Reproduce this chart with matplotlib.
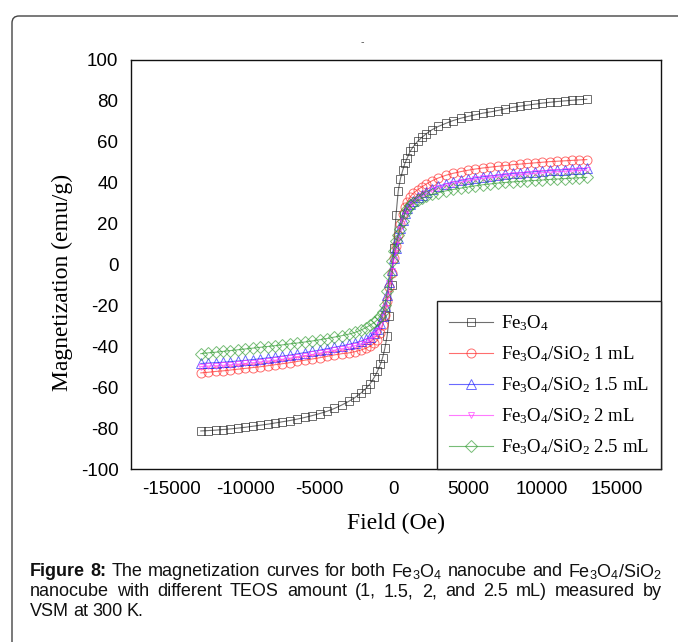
import matplotlib
matplotlib.use('Agg')
import matplotlib.pyplot as plt
from matplotlib.patches import FancyBboxPatch

# field sweep (Oe), from +13000 down to -13000
field = [13000, 12500, 12000, 11500, 11000, 10500, 10000, 9500, 9000, 8500, 8000,
         7500, 7000, 6500, 6000, 5500, 5000, 4500, 4000, 3500, 3000,
         2600, 2200, 1900, 1600, 1300, 1100, 900, 750, 600, 450, 300, 150,
         0,
         -150, -300, -450, -600, -750, -900, -1100, -1300, -1600, -1900, -2200, -2600,
         -3000, -3500, -4000, -4500, -5000, -5500, -6000, -6500, -7000, -7500, -8000,
         -8500, -9000, -9500, -10000, -10500, -11000, -11500, -12000, -12500, -13000]

# magnetization (emu/g)
m_fe3o4 = [80.8, 80.6, 80.3, 80.0, 79.7, 79.3, 78.9, 78.4, 77.9, 77.4, 76.8,
           76.1, 75.3, 74.6, 74.0, 73.2, 72.4, 71.5, 70.4, 69.0, 67.5,
           66.0, 64.0, 62.2, 60.2, 57.5, 55.3, 52.0, 49.5, 46.0, 42.0, 36.0, 24.0,
           8.0,
           -10.0, -25.0, -35.0, -41.0, -45.5, -48.8, -52.2, -55.0, -58.4, -60.8, -62.8, -65.0,
           -66.8, -68.7, -70.4, -71.8, -72.9, -73.9, -74.8, -75.6, -76.3, -76.9, -77.5,
           -78.1, -78.6, -79.1, -79.6, -80.0, -80.4, -80.7, -81.0, -81.2, -81.4]
m_1ml = [51.3, 51.1, 50.9, 50.7, 50.5, 50.3, 50.0, 49.7, 49.4, 49.1, 48.8,
         48.4, 48.0, 47.6, 47.2, 46.7, 46.1, 45.4, 44.6, 43.6, 42.3,
         41.0, 39.4, 38.0, 36.5, 34.8, 33.0, 30.5, 28.0, 24.5, 20.0, 14.5, 9.0,
         3.0,
         -4.0, -11.0, -18.0, -24.5, -29.5, -33.5, -37.0, -38.5, -40.0, -41.0, -41.8, -42.6,
         -43.2, -43.6, -44.2, -44.9, -45.6, -46.2, -46.8, -47.4, -48.0, -48.5, -49.0,
         -49.5, -50.0, -50.4, -50.8, -51.2, -51.6, -52.0, -52.3, -52.7, -53.0]
m_15ml = [47.0, 46.8, 46.6, 46.4, 46.2, 46.0, 45.7, 45.4, 45.1, 44.8, 44.5,
          44.1, 43.7, 43.3, 42.9, 42.4, 41.8, 41.1, 40.3, 39.4, 38.2,
          37.0, 35.5, 34.2, 32.8, 31.2, 29.6, 27.4, 25.2, 22.0, 18.0, 13.0, 8.0,
          3.0,
          -2.5, -8.5, -15.0, -20.5, -25.0, -28.5, -31.5, -33.5, -35.5, -36.6, -37.5, -38.3,
          -39.0, -39.8, -40.5, -41.2, -41.9, -42.5, -43.1, -43.7, -44.3, -44.8, -45.3,
          -45.7, -46.1, -46.5, -46.9, -47.2, -47.5, -47.8, -48.0, -48.2, -48.4]
m_2ml = [46.2, 46.0, 45.8, 45.6, 45.4, 45.2, 44.9, 44.6, 44.3, 44.0, 43.7,
         43.3, 42.9, 42.5, 42.1, 41.6, 41.0, 40.3, 39.5, 38.6, 37.4,
         36.2, 34.7, 33.4, 32.0, 30.4, 28.8, 26.6, 24.4, 21.2, 17.2, 12.2, 7.2,
         2.2,
         -3.2, -9.2, -15.8, -21.3, -25.8, -29.4, -32.5, -34.6, -36.7, -37.9, -38.8, -39.7,
         -40.4, -41.2, -41.9, -42.6, -43.3, -44.0, -44.6, -45.2, -45.8, -46.3, -46.8,
         -47.2, -47.6, -48.0, -48.4, -48.7, -49.0, -49.3, -49.5, -49.7, -49.9]
m_25ml = [42.6, 42.4, 42.2, 42.0, 41.8, 41.6, 41.3, 41.1, 40.9, 40.6, 40.4,
          40.1, 39.8, 39.4, 39.0, 38.5, 37.9, 37.3, 36.7, 36.0, 35.1,
          34.3, 33.3, 32.4, 31.4, 30.0, 29.0, 27.3, 25.0, 21.5, 17.5, 14.5, 11.5,
          6.5,
          1.5, -5.0, -13.0, -20.0, -23.0, -25.0, -27.0, -28.3, -29.7, -31.0, -32.0, -33.2,
          -34.0, -34.8, -35.5, -36.2, -36.8, -37.4, -37.9, -38.4, -38.8, -39.3, -39.7,
          -40.1, -40.5, -40.9, -41.3, -41.7, -42.1, -42.5, -42.9, -43.2, -43.6]

SERIES = [
    (m_fe3o4, r'Fe$_3$O$_4$', '#222222', 's', 6.0),
    (m_1ml, r'Fe$_3$O$_4$/SiO$_2$ 1 mL', '#ff2020', 'o', 6.5),
    (m_15ml, r'Fe$_3$O$_4$/SiO$_2$ 1.5 mL', '#1a1aff', '^', 6.5),
    (m_2ml, r'Fe$_3$O$_4$/SiO$_2$ 2 mL', '#ff33ff', 'v', 4.5),
    (m_25ml, r'Fe$_3$O$_4$/SiO$_2$ 2.5 mL', '#2e9a2e', 'D', 6.5),
]
x_ticks = [-15000, -10000, -5000, 0, 5000, 10000, 15000]
y_ticks = [-100, -80, -60, -40, -20, 0, 20, 40, 60, 80, 100]

FE3O4 = r'Fe$_\mathsf{3}$O$_\mathsf{4}$'
CAPTION = [
    [('Figure', 'bold'), ('8:', 'bold'), 'The', 'magnetization', 'curves', 'for', 'both',
     FE3O4, 'nanocube', 'and', FE3O4 + r'/SiO$_\mathsf{2}$'],
    ['nanocube', 'with', 'different', 'TEOS', 'amount', '(1,', '1.5,', '2,', 'and', '2.5',
     'mL)', 'measured', 'by'],
    ['VSM', 'at', '300', 'K.'],
]

plt.rcParams['axes.unicode_minus'] = False
plt.rcParams['mathtext.fontset'] = 'custom'
plt.rcParams['mathtext.rm'] = 'Liberation Serif'
plt.rcParams['mathtext.it'] = 'Liberation Serif:italic'
plt.rcParams['mathtext.sf'] = 'Liberation Sans'

fig = plt.figure(figsize=(6.78, 6.42), dpi=100)
ax = fig.add_axes([131 / 678, 1 - 469 / 642, 530 / 678, 409 / 642])

# rounded frame around the figure panel
frame = FancyBboxPatch((0.12, -1.0), 8.0, 7.26, boxstyle='round,pad=0,rounding_size=0.07',
                       transform=fig.dpi_scale_trans, fc='none', ec='#444444', lw=1.0)
fig.patches.append(frame)

for vals, label, color, marker, ms in SERIES:
    ax.plot(field, vals, color=color, lw=0.8, alpha=0.65, marker=marker, ms=ms,
            mfc='none', mec=color, mew=0.7, label=label)

ax.set_xlim(-17700, 18000)
ax.set_ylim(-100, 100)
ax.set_xticks(x_ticks)
ax.set_yticks(y_ticks)
ax.tick_params(length=0, labelsize=13.5, pad=9)
for lab in ax.get_xticklabels() + ax.get_yticklabels():
    lab.set_family('Liberation Sans')
for sp in ax.spines.values():
    sp.set_color('#111111')
    sp.set_linewidth(1.0)

ax.set_xlabel('Field (Oe)', family='Liberation Serif', fontsize=17, labelpad=10)
ax.set_ylabel('Magnetization (emu/g)', family='Liberation Serif', fontsize=17)
ax.yaxis.set_label_coords(-58 / 530, 0.457)

leg = ax.legend(loc='lower right', bbox_to_anchor=(1.0, 0.0), borderaxespad=0,
                prop={'family': 'Liberation Serif', 'size': 13.5}, numpoints=1,
                fancybox=False, edgecolor='#222222', framealpha=1,
                handlelength=2.3, handletextpad=0.45, labelspacing=0.6,
                borderpad=0.65)
leg.get_frame().set_linewidth(1.0)

fig.text(362 / 678, 1 - 42 / 642, '-', fontsize=7, color='#555555', ha='center', va='center')

# caption, justified between x=30 and x=662 px
renderer = fig.canvas.get_renderer()
W = 678.0
for row, words in enumerate(CAPTION):
    y = 1 - (572 + 20 * row) / 642
    items = []
    for w in words:
        word, weight = (w if isinstance(w, tuple) else (w, 'normal'))
        t = fig.text(0, y, word, family='Liberation Sans', fontsize=13, weight=weight,
                     va='center', ha='left', color='#111111')
        items.append(t)
    widths = [t.get_window_extent(renderer).width for t in items]
    if row < len(CAPTION) - 1:
        gap = max((662 - 30 - sum(widths)) / (len(items) - 1), 3.0)
    else:
        gap = 4.0
    x = 30.0
    for t, w in zip(items, widths):
        t.set_x(x / W)
        x += w + gap

fig.savefig('out.png', dpi=100)
